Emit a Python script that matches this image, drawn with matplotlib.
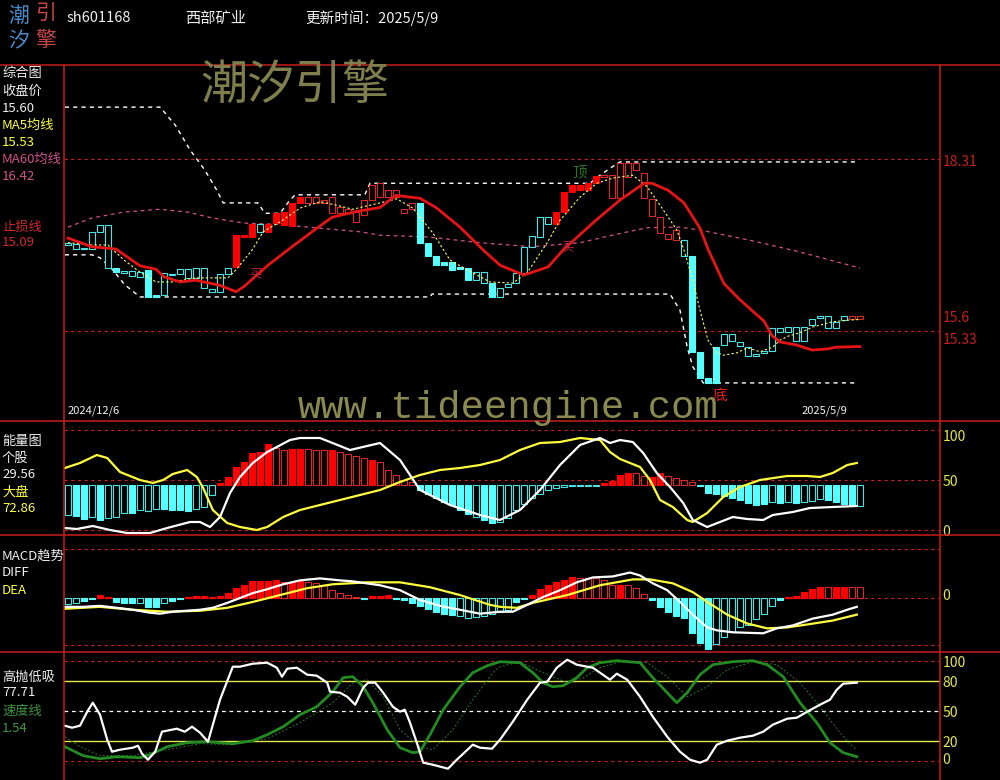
import matplotlib
matplotlib.use('Agg')
import matplotlib.pyplot as plt
from matplotlib.lines import Line2D
import numpy as np

plt.rcParams['font.family'] = ['Noto Sans CJK SC', 'DejaVu Sans']

W, H = 1000, 780

def fx(px):
    return px / W

def fy(py):
    return 1 - py / H

# ---------------- header ----------------
stock_code = 'sh601168'
stock_name = '西部矿业'
update_day = '2025/5/9'
first_day, last_day = '2024/12/6', '2025/5/9'

# ---------------- main panel: candle bodies ----------------
body_top = [16.86, 16.84, 16.77, 17.05, 17.17, 17.17, 16.42, 16.37, 16.37, 16.35,
            16.39, 15.95, 16.34, 16.32, 16.40, 16.40, 16.42, 16.42, 16.06, 16.32,
            16.42, 16.99, 16.99, 17.18, 17.18, 17.18, 17.38, 17.39, 17.55, 17.65,
            17.65, 17.65, 17.60, 17.65, 17.48, 17.44, 17.39, 17.60, 17.86, 17.90,
            17.77, 17.77, 17.44, 17.55, 17.55, 16.86, 16.63, 16.53, 16.53, 16.44,
            16.42, 16.35, 16.35, 16.16, 16.08, 16.14, 16.34, 16.79, 16.98, 17.31,
            17.31, 17.39, 17.74, 17.86, 17.86, 17.90, 18.02, 18.03, 18.03, 18.24,
            18.24, 18.24, 18.07, 17.62, 17.31, 17.01, 17.08, 16.91, 16.63, 14.97,
            14.52, 15.05, 15.28, 15.28, 15.14, 15.05, 14.93, 14.98, 15.38, 15.38,
            15.40, 15.40, 15.40, 15.54, 15.59, 15.59, 15.49, 15.59, 15.59, 15.59]
body_bot = [16.82, 16.75, 16.75, 16.75, 17.05, 16.42, 16.35, 16.34, 16.28, 16.27,
            15.92, 15.92, 15.95, 16.30, 16.32, 16.25, 16.25, 16.08, 16.01, 16.01,
            16.32, 16.44, 16.96, 16.96, 17.05, 17.05, 17.20, 17.17, 17.15, 17.55,
            17.55, 17.55, 17.55, 17.38, 17.38, 17.38, 17.22, 17.34, 17.60, 17.65,
            17.65, 17.65, 17.38, 17.44, 16.86, 16.63, 16.47, 16.47, 16.39, 16.40,
            16.21, 16.21, 16.16, 15.92, 15.92, 16.09, 16.16, 16.34, 16.79, 16.96,
            17.18, 17.18, 17.39, 17.74, 17.77, 17.77, 17.90, 18.00, 17.64, 17.64,
            18.00, 18.12, 17.64, 17.32, 17.03, 16.92, 16.91, 16.63, 14.97, 14.52,
            14.43, 14.43, 15.09, 15.16, 15.07, 14.90, 14.90, 14.95, 14.98, 15.31,
            15.31, 15.16, 15.16, 15.43, 15.56, 15.38, 15.38, 15.52, 15.54, 15.54]
# r/c = red/cyan, f/h = filled/hollow
candle_style = ('ch ch ch ch ch ch cf ch ch ch '
                'cf cf ch ch ch ch ch ch ch ch '
                'ch rf rf rf ch rf rf rf rf rf '
                'rh rh rh rh rh rh rh rh rh rh '
                'rh rh rh rh cf cf cf cf cf cf '
                'cf ch ch cf ch ch ch ch ch ch '
                'ch rf rf rf rf rf rf rh rh rh '
                'rh rh rh rh rh rh rh ch cf cf '
                'cf cf ch ch ch ch ch ch ch ch '
                'ch ch ch ch ch ch ch ch rh rh').split()

# stop-loss line (thick red)
stop_x = [0, 3, 6, 9, 11, 12, 14, 16, 19, 21, 22, 25, 28, 31, 33, 36, 39, 41, 44, 46,
          49, 52, 54, 57, 60, 62, 66, 69, 72, 73, 75, 77, 79, 80, 82, 84, 87, 88, 89, 91,
          93, 95, 96, 99]
stop_y = [16.94, 16.79, 16.75, 16.46, 16.40, 16.27, 16.18, 16.21, 16.12, 16.01, 16.10,
          16.47, 16.79, 17.10, 17.30, 17.40, 17.47, 17.68, 17.63, 17.47, 17.13, 16.72,
          16.47, 16.30, 16.44, 16.75, 17.25, 17.60, 17.89, 17.89, 17.77, 17.55, 17.11,
          16.75, 16.15, 15.87, 15.50, 15.25, 15.14, 15.09, 15.00, 15.02, 15.05, 15.06]

# MA60 (pink dashed)
ma60_x = [0, 3, 7, 11.5, 15, 18, 22, 26, 30, 36.5, 39, 45, 51.5, 58, 64, 68, 72.4, 76.5,
          79, 85, 91.5, 99]
ma60_y = [17.13, 17.29, 17.39, 17.44, 17.39, 17.29, 17.20, 17.18, 17.13, 17.05, 16.99,
          16.96, 16.86, 16.79, 16.86, 16.99, 17.12, 17.13, 17.08, 16.91, 16.70, 16.42]

# MA5 (yellow dashed)
ma5_x = [0, 3, 5, 7, 9, 11, 13, 16, 18, 20, 21, 23, 24.4, 26.5, 29, 31.5, 33.6, 35.6, 39,
         41.1, 43.1, 45.6, 47.75, 49.9, 52.75, 55.6, 57.4, 59.9, 61.5, 64, 66.1, 68.1,
         70.6, 72.4, 74.4, 76.1, 77, 78.1, 79, 80, 81, 81.9, 83.6, 84.9, 86.5, 88.1, 89,
         90, 91.5, 93.1, 95.6, 97.75, 99]
ma5_y = [16.86, 16.82, 16.82, 16.56, 16.35, 16.18, 16.18, 16.25, 16.25, 16.25, 16.39,
         16.73, 17.05, 17.22, 17.46, 17.57, 17.51, 17.44, 17.55, 17.62, 17.46, 17.03,
         16.56, 16.39, 16.18, 16.16, 16.34, 16.86, 17.25, 17.65, 17.89, 17.98, 18.03,
         17.83, 17.43, 17.08, 16.73, 16.21, 15.69, 15.17, 14.97, 14.91, 14.95, 15.04,
         14.97, 15.05, 15.17, 15.24, 15.30, 15.40, 15.49, 15.52, 15.53]

# price channel (white dashed)
hi_x = [-0.4, 11.5, 13.4, 15.25, 17.1, 18.6, 19.4, 23.75, 24.6, 26.5, 27.75, 28.4, 37.1,
        37.75, 65.25, 66.5, 68.4, 69, 98.6]
hi_y = [19.21, 19.21, 18.90, 18.47, 18.12, 17.77, 17.55, 17.55, 17.37, 17.37, 17.60, 17.69,
        17.69, 17.89, 17.89, 18.03, 18.21, 18.26, 18.26]
lo_x = [-0.4, 3, 4, 5.6, 7.1, 9, 45.25, 45.5, 75.25, 76.5, 77.4, 78.1, 79.4, 98.6]
lo_y = [16.65, 16.65, 16.60, 16.39, 16.13, 15.92, 15.92, 15.97, 15.97, 15.69, 15.05, 14.71,
        14.43, 14.43]

price_levels = [18.31, 15.33]
price_labels = ['18.31', '15.6', '15.33']
price_label_pos = [18.26, 15.55, 15.17]

# ---------------- energy panel ----------------
vol_base = 45
vol_bars = [15, 14, 11, 13, 10, 12, 13, 17, 17, 20,
            19, 21, 21, 20, 20, 19, 21, 23, 35, 47,
            53, 63, 68, 77, 78, 86, 82, 80, 81, 81,
            81, 80, 80, 80, 78, 76, 74, 72, 70, 68,
            60, 55, 50, 48, 40, 36, 32, 28, 25, 20,
            16, 13, 10, 7, 8, 12, 20, 26, 32, 36,
            40, 42, 43, 44, 44, 44, 44, 47, 49, 55,
            57, 57, 54, 53, 57, 54, 52, 50, 48, 44,
            37, 36, 34, 32, 30, 27, 25, 26, 28, 27,
            28, 27, 28, 29, 31, 30, 28, 26, 25, 24]
vol_style = ('ch cf cf ch cf ch ch ch cf ch '
             'ch ch cf cf cf cf ch ch ch rf '
             'rf rf rf rf rf rf rh rh rf rf '
             'rh rh rh rf rh rh rh rh rf rh '
             'rh rh rh rh cf cf cf cf cf cf '
             'cf ch cf cf ch ch ch ch ch ch '
             'ch ch ch ch ch ch ch rf rf rf '
             'rf rh rh rf rf rh rh rh rh cf '
             'cf cf cf cf cf cf cf cf ch cf '
             'ch cf ch ch ch cf cf cf cf ch').split()
vol_w_x = [-0.4, 1.1, 3.1, 5.25, 7.4, 10.25, 12.4, 15.25, 16.5, 17.75, 19, 20.25, 21.5,
           23.1, 24.9, 26.1, 27.75, 29, 31.5, 35.25, 39, 41.5, 44, 47.75, 51.5, 54, 56.5,
           59, 61.5, 64, 66.5, 67.75, 69, 70.6, 71.9, 73.6, 75.25, 76.9, 78.1, 79.9, 81.5,
           83.1, 84.9, 86.9, 88.1, 90.6, 92.75, 95.6, 98.6]
vol_w_y = [2, 1, 4, 0, -3, -3, 2, 8, 8, 3, 13, 37, 53, 67, 78, 83, 90, 92, 92, 80, 87, 70,
           40, 25, 15, 10, 20, 40, 65, 85, 92, 87, 90, 88, 77, 57, 43, 27, 10, 3, 8, 13, 11,
           10, 15, 18, 22, 23, 24]
vol_y_x = [-0.4, 1.5, 3.6, 4.9, 6.5, 9, 10.6, 11.9, 13.1, 14.9, 16.1, 16.9, 18.1, 19.9,
           21.5, 23.6, 24.9, 26.9, 29, 31.5, 34, 36.5, 39, 41.5, 44, 46.5, 49, 51.5, 54,
           56.5, 59, 61.5, 64, 66.5, 67.75, 69, 71.5, 72.75, 74, 75.6, 77.4, 78.1, 79.9,
           81.9, 84, 86.5, 89.9, 92.4, 94, 95.6, 97.4, 98.6]
vol_y_y = [62, 67, 75, 72, 58, 50, 47, 50, 56, 60, 53, 42, 20, 7, 3, 0, 3, 13, 20, 25, 30,
           35, 40, 48, 55, 60, 62, 65, 70, 80, 87, 88, 92, 90, 78, 71, 63, 50, 30, 23, 10,
           8, 17, 33, 43, 50, 54, 54, 53, 57, 65, 67]
vol_levels = [100, 50, 0]

# ---------------- MACD panel ----------------
macd_bars = [-0.06, -0.05, -0.03, -0.01, 0.03, 0.01, -0.04, -0.05, -0.05, -0.05,
             -0.09, -0.09, -0.05, -0.03, -0.01, 0.01, 0.02, 0.02, 0.01, 0.02,
             0.05, 0.10, 0.13, 0.17, 0.17, 0.17, 0.18, 0.16, 0.16, 0.17,
             0.16, 0.15, 0.13, 0.08, 0.05, 0.03, 0.01, -0.01, 0.02, 0.02,
             0.03, -0.01, -0.02, -0.05, -0.08, -0.11, -0.14, -0.16, -0.17, -0.18,
             -0.20, -0.19, -0.18, -0.16, -0.14, -0.12, -0.04, -0.01, 0.03, 0.09,
             0.13, 0.16, 0.18, 0.21, 0.20, 0.20, 0.20, 0.18, 0.13, 0.13,
             0.13, 0.10, 0.04, -0.02, -0.09, -0.14, -0.18, -0.20, -0.36, -0.46,
             -0.52, -0.47, -0.40, -0.35, -0.30, -0.28, -0.21, -0.16, -0.08, -0.02,
             0.01, 0.02, 0.06, 0.09, 0.11, 0.11, 0.11, 0.11, 0.11, 0.11]
macd_style = ('ch ch cf cf rf rf cf cf cf ch '
              'cf cf ch cf cf rf rf rf rf rf '
              'rf rf rf rf rf rf rf rh rf rf '
              'rh rh rh rh rh rh rh cf rf rf '
              'rf cf cf cf cf cf cf cf cf ch '
              'ch ch ch ch ch ch cf cf rf rf '
              'rf rf rf rf rh rh rh rh rh rf '
              'rh rh rh cf cf cf cf cf cf cf '
              'cf ch ch ch ch ch ch ch ch cf '
              'rf rf rf rf rf rh rf rf rh rh').split()
diff_x = [-0.4, 1.9, 4, 6.1, 8.1, 10.25, 11.5, 13.1, 16.5, 18.1, 19.9, 21.5, 23.1, 24.9,
          26.9, 29, 31.5, 34, 35.6, 39, 41.5, 44, 46.5, 49, 51.5, 54, 55.6, 57.4, 59.4,
          61.5, 63.6, 65.6, 68.1, 70.25, 71.5, 73.1, 74.9, 76.5, 78.1, 79.9, 81.1, 83.1,
          86.9, 88.6, 90.6, 93.1, 95.6, 97.4, 98.6]
diff_y = [-0.09, -0.09, -0.08, -0.10, -0.12, -0.15, -0.16, -0.14, -0.12, -0.10, -0.05,
          0.0, 0.05, 0.09, 0.14, 0.18, 0.20, 0.18, 0.17, 0.13, 0.08, -0.02, -0.08, -0.12,
          -0.16, -0.14, -0.14, -0.07, 0.01, 0.08, 0.16, 0.21, 0.22, 0.26, 0.23, 0.15, 0.08,
          -0.04, -0.17, -0.30, -0.33, -0.35, -0.36, -0.31, -0.28, -0.21, -0.17, -0.12, -0.09]
dea_x = [-0.4, 4, 8.1, 12.4, 16.5, 19.9, 23.1, 26.5, 29.9, 33.1, 37.4, 41.5, 45.25, 49,
         52.75, 54, 56.1, 58.1, 62.4, 66.5, 70.6, 72.75, 75.6, 78.1, 79.9, 82.4, 84.9,
         87.4, 89.9, 92.4, 95.6, 98.6]
dea_y = [-0.11, -0.09, -0.12, -0.14, -0.13, -0.10, -0.04, 0.03, 0.10, 0.14, 0.16, 0.16,
         0.11, 0.03, -0.07, -0.09, -0.10, -0.05, 0.03, 0.13, 0.19, 0.19, 0.15, 0.06, -0.04,
         -0.17, -0.26, -0.31, -0.30, -0.27, -0.23, -0.17]
macd_levels = [0.5, 0.0, -0.48]

# ---------------- high-sell / low-buy panel ----------------
kd_x = [-0.4, 0.5, 1.5, 2.4, 3.1, 4, 4.9, 5.5, 6.5, 8.1, 8.75, 9.25, 10, 10.9, 11.75,
        13.6, 14.6, 15.5, 16.5, 17.5, 19, 20.6, 21.5, 23.1, 24.9, 26.1, 26.75, 27.4,
        28.6, 29.9, 31.1, 32.4, 32.75, 34, 34.9, 35.9, 36.9, 37.5, 38.4, 39.4, 40.6,
        41.5, 42.1, 42.75, 43.6, 44.4, 45.6, 47.5, 48.6, 50.6, 51.5, 53, 54, 55.6, 57.4,
        59, 59.9, 61.1, 62.4, 63.6, 64.9, 65.6, 67.75, 68.6, 69.9, 71.5, 73.1, 74.9,
        76.5, 77.75, 79, 79.9, 81.1, 82.4, 84, 85.6, 86.9, 88.1, 89.9, 91.1, 92.4, 94,
        95.25, 96.1, 96.9, 98.6]
kd_y = [35, 33, 35, 49, 58, 46, 21, 9, 11, 13, 15, 7, 1, 9, 29, 32, 29, 34, 28, 19,
        61, 94, 94, 97, 98, 93, 84, 92, 93, 86, 85, 78, 69, 68, 64, 56, 73, 78, 78, 68,
        54, 49, 51, 38, 18, -2, -4, -8, 1, 16, 13, 12, 21, 39, 61, 78, 79, 93, 101, 96,
        94, 93, 81, 87, 81, 64, 44, 24, 9, 1, -2, 1, 16, 20, 23, 25, 29, 36, 42, 43,
        49, 56, 61, 71, 77, 78]
sp_x = [-0.4, 1.9, 4, 6.1, 9, 10.25, 12.4, 14.9, 17.4, 20.6, 23.1, 24.9, 26.9, 29, 31.1,
        33.1, 34.4, 35.6, 36.9, 38.1, 39.9, 41.5, 43.1, 44, 45.25, 46.9, 49, 50.6, 52.4,
        54, 56.5, 58.1, 59.4, 60.6, 61.9, 63.6, 64.9, 66.5, 68.6, 71.5, 73.1, 74.9, 76.1,
        77.4, 79, 80.6, 83.1, 85.6, 87.4, 89.4, 91.5, 93.6, 95.25, 96.9, 98.6]
sp_y = [14, 5, 2, 4, 3, 6, 14, 18, 19, 17, 20, 26, 34, 46, 54, 69, 83, 84, 74, 58,
        31, 13, 8, 9, 26, 51, 74, 88, 95, 99, 98, 88, 78, 74, 75, 83, 93, 98, 100, 98,
        83, 68, 58, 68, 86, 96, 99, 100, 96, 84, 58, 38, 18, 8, 4]
sl_x = [-0.4, 1.5, 4, 8.1, 12.4, 16.5, 20.6, 24.9, 29, 33.1, 35.6, 37.4, 39.4, 41.5, 44,
        45.6, 48.1, 50.6, 53.1, 54, 56.5, 59.4, 62.4, 64.4, 66.5, 69, 72.4, 74.9, 77.4,
        79.9, 82.4, 85.6, 88.6, 91.5, 94, 96.5, 98.1, 98.6]
sl_y = [24, 14, 5, 5, 11, 17, 16, 22, 38, 58, 78, 81, 64, 31, 14, 11, 31, 61, 88, 94,
        99, 88, 78, 83, 93, 99, 98, 84, 64, 74, 91, 99, 96, 78, 54, 28, 14, 11]
kd_labels = ['100', '80', '50', '20', '0']
kd_label_pos = [98, 78, 48, 18, 1]

# ---------------- colours ----------------
BG = 'black'
FRAME = '#c81e1e'
RED = '#ff0000'
RED_EDGE = '#dc2828'
CYAN = '#55ffff'
CYAN_EDGE = '#46e6e6'
WHITE = '#f0f0f0'
YELLOW = '#ffff3c'
PINK = '#d2508c'
OLIVE = '#7f7f4e'
GREEN = '#1e7a1e'

days = np.arange(len(body_top))


def style_colors(codes):
    face, edge = [], []
    for s in codes:
        c = RED if s[0] == 'r' else CYAN
        e = RED_EDGE if s[0] == 'r' else CYAN_EDGE
        face.append(c if s[1] == 'f' else BG)
        edge.append(c if s[1] == 'f' else e)
    return face, edge


def draw_bars(ax, x, base, tops, codes, min_h):
    face, edge = style_colors(codes)
    base = np.broadcast_to(np.asarray(base, dtype=float), (len(x),))
    h = np.asarray(tops, dtype=float) - base
    h = np.where(np.abs(h) < min_h, np.where(h < 0, -min_h, min_h), h)
    ax.bar(x, h, bottom=base, width=0.74, color=face, edgecolor=edge,
           linewidth=0.8, zorder=2)


fig = plt.figure(figsize=(W / 100, H / 100), dpi=100, facecolor=BG)


def panel(top, bottom, ylim):
    ax = fig.add_axes([fx(64), fy(bottom), fx(940 - 64), (bottom - top) / H])
    ax.set_facecolor(BG)
    ax.set_xlim(-0.5, 109)
    ax.set_ylim(*ylim)
    ax.axis('off')
    return ax


def right_label(ax, y, text, color):
    ax.text(1.003, y, text, transform=ax.get_yaxis_transform(), color=color,
            fontsize=10, va='center', ha='left', clip_on=False)


# ---- main panel ----
ax = panel(65, 421, (13.77, 19.94))
for lv in price_levels:
    ax.axhline(lv, color=FRAME, lw=0.8, dashes=(3, 3))
ax.plot(hi_x, hi_y, color='white', lw=1.0, dashes=(3, 3), zorder=1)
ax.plot(lo_x, lo_y, color='white', lw=1.0, dashes=(3, 3), zorder=1)
ax.plot(ma60_x, ma60_y, color=PINK, lw=0.9, dashes=(3, 3), zorder=1)
draw_bars(ax, days, body_bot, body_top, candle_style, 0.025)
ax.plot(ma5_x, ma5_y, color='#ffff66', lw=0.8, dashes=(2, 2), zorder=3)
ax.plot(stop_x, stop_y, color='#e61414', lw=2.0, zorder=4)
for txt, pos in zip(price_labels, price_label_pos):
    right_label(ax, pos, txt, FRAME)
ax.text(64, 18.07, '顶', color=GREEN, fontsize=10.5, ha='center', va='center', zorder=5)
ax.text(81.5, 14.20, '底', color='#e61e1e', fontsize=10.5, ha='center', va='center',
        zorder=5)
ax.text(23.5, 16.33, '买', color='#b4283c', fontsize=9, ha='center', va='center', zorder=5)
ax.text(62.4, 16.79, '买', color='#b4283c', fontsize=9, ha='center', va='center', zorder=5)

# ---- energy panel ----
ax2 = panel(421, 535, (-5, 109))
for lv in vol_levels:
    ax2.axhline(lv, color=FRAME, lw=0.8, dashes=(3, 3))
draw_bars(ax2, days, vol_base, vol_bars, vol_style, 1.0)
ax2.plot(vol_y_x, vol_y_y, color=YELLOW, lw=1.6, zorder=3)
ax2.plot(vol_w_x, vol_w_y, color='white', lw=1.6, zorder=3)
for txt, pos in zip(['100', '50', '0'], [93, 48, -2]):
    right_label(ax2, pos, txt, '#e6e650')

# ---- MACD panel ----
ax3 = panel(535, 652, (-0.551, 0.643))
for lv in macd_levels:
    ax3.axhline(lv, color=FRAME, lw=0.8, dashes=(3, 3))
draw_bars(ax3, days, 0.0, macd_bars, macd_style, 0.012)
ax3.plot(dea_x, dea_y, color=YELLOW, lw=1.6, zorder=3)
ax3.plot(diff_x, diff_y, color='white', lw=1.6, zorder=3)
right_label(ax3, 0.02, '0', '#e6e650')

# ---- high-sell low-buy panel ----
ax4 = panel(652, 780, (-19.3, 108.7))
ax4.axhline(100, color=FRAME, lw=0.8, dashes=(3, 3))
ax4.axhline(0, color=FRAME, lw=0.8, dashes=(3, 3))
ax4.axhline(80, color='#e6e650', lw=1.0)
ax4.axhline(20, color='#e6e650', lw=1.0)
ax4.axhline(50, color='white', lw=0.9, dashes=(3, 3))
ax4.plot(sl_x, sl_y, color='#2a7a2a', lw=0.7, dashes=(2, 2), zorder=2)
ax4.plot(sp_x, sp_y, color='#228b22', lw=2.0, zorder=3)
ax4.plot(kd_x, kd_y, color='white', lw=1.6, zorder=4)
for txt, pos in zip(kd_labels, kd_label_pos):
    right_label(ax4, pos, txt, '#e6e650')

# ---- frame ----
for y in (65, 421, 535, 652):
    fig.add_artist(Line2D([0, 1], [fy(y), fy(y)], transform=fig.transFigure,
                          color=FRAME, lw=1.1))
for x in (64, 940):
    fig.add_artist(Line2D([fx(x), fx(x)], [fy(65), 0], transform=fig.transFigure,
                          color=FRAME, lw=1.1))

# ---- header ----
logo = [('潮', 19, 16, '#4a8cc8'), ('引', 46, 14, '#c84646'),
        ('汐', 19, 41, '#4a8cc8'), ('擎', 46, 40, '#c84646')]
for ch, x, y, c in logo:
    fig.text(fx(x), fy(y), ch, color=c, fontsize=15, ha='center', va='center')
fig.text(fx(67), fy(18), stock_code, color=WHITE, fontsize=10.5, va='center')
fig.text(fx(185), fy(18), stock_name, color=WHITE, fontsize=11, va='center')
fig.text(fx(305), fy(18), '更新时间：' + update_day, color=WHITE, fontsize=10.5, va='center')

# ---- watermark ----
fig.text(fx(200), fy(86), '潮汐引擎', color=OLIVE, fontsize=34, va='center')
fig.text(fx(298), fy(408), 'www.tideengine.com', color='#8a8a50', fontsize=28,
         family=['Liberation Mono', 'DejaVu Sans Mono'], va='center')
fig.text(fx(68), fy(411), first_day, color=WHITE, fontsize=8, va='center')
fig.text(fx(802), fy(411), last_day, color=WHITE, fontsize=8, va='center')

# ---- left legends ----
legend_rows = [('综合图', 73, WHITE), ('收盘价', 91, WHITE), ('15.60', 108, WHITE),
               ('MA5均线', 125, YELLOW), ('15.53', 142, YELLOW),
               ('MA60均线', 159, PINK), ('16.42', 176, PINK),
               ('止损线', 227, '#d22828'), ('15.09', 243, '#d22828'),
               ('能量图', 441, WHITE), ('个股', 458, WHITE), ('29.56', 475, WHITE),
               ('大盘', 492, YELLOW), ('72.86', 509, YELLOW),
               ('MACD趋势', 556, WHITE), ('DIFF', 573, WHITE), ('DEA', 590, YELLOW),
               ('高抛低吸', 677, WHITE), ('77.71', 693, WHITE),
               ('速度线', 711, '#3c963c'), ('1.54', 728, '#3c963c')]
for txt, y, c in legend_rows:
    fig.text(fx(2), fy(y), txt, color=c, fontsize=9.5, va='center')

fig.savefig('out.png', dpi=100, facecolor=BG)
